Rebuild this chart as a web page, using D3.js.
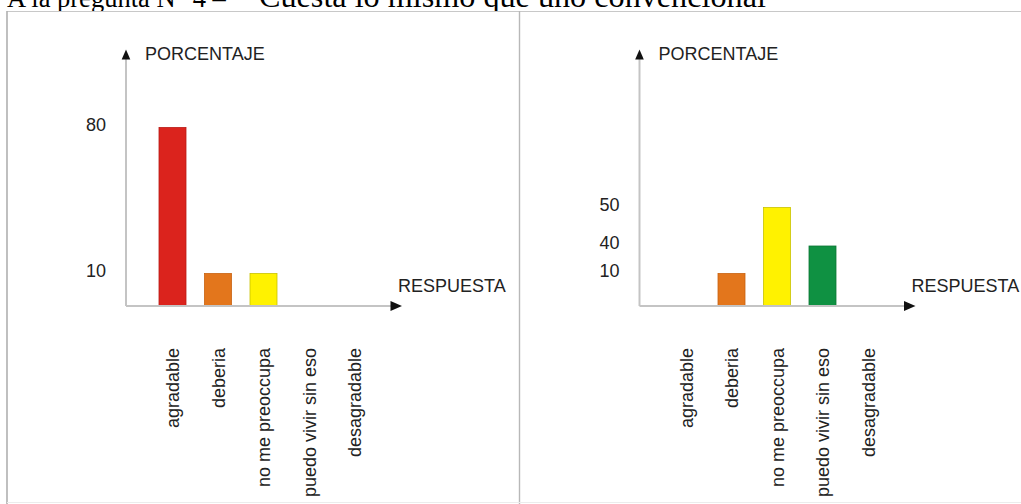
<!DOCTYPE html>
<html>
<head>
<meta charset="utf-8">
<script src="https://cdn.jsdelivr.net/npm/d3@7"></script>
<style>
  html, body { margin: 0; padding: 0; background: #fff; }
  svg { display: block; }
</style>
</head>
<body>
<svg id="chart" width="1021" height="504"></svg>
<script>
// Answers to question 4, before and after
const categories = ["agradable", "deberia", "no me preoccupa", "puedo vivir sin eso", "desagradable"];
const valuesLeft = [80, 10, 10, 0, 0];
const valuesRight = [0, 10, 50, 40, 0];
const ticksLeft = [10, 80];
const ticksRight = [10, 40, 50];
const barColors = ["#db231d", "#e3761c", "#fff200", "#0f9142", "#7a1f7a"];
const barStrokes = ["#b81a14", "#c8620f", "#c9c200", "#0a7534", "#5a155a"];
const questionText = "A la pregunta N° 4 –";
const questionBody = "Cuesta lo mismo que uno convencional";
const yTitle = "PORCENTAJE";
const xTitle = "RESPUESTA";

const svg = d3.select("#chart");
const sansFont = "'Liberation Sans', Arial, sans-serif";
const ink = "#222";
const axisGray = "#c4c4c4";

// heading line of the page, partly hidden under the figure
const heading = svg.append("text")
  .attr("y", 7)
  .attr("font-family", "'Liberation Serif', 'Times New Roman', serif")
  .attr("fill", "#000");
heading.append("tspan").attr("x", 7).attr("font-size", 26.5).text(questionText);
heading.append("tspan").attr("x", 259).attr("font-size", 32.2).text(questionBody);

// figure background sits on top of the heading's descenders
svg.append("rect").attr("x", 7).attr("y", 11).attr("width", 1014).attr("height", 493).attr("fill", "#fff");

const frame = svg.append("g").attr("fill", "none");
frame.append("line").attr("x1", 7).attr("x2", 1021).attr("y1", 11.5).attr("y2", 11.5)
  .attr("stroke", "#c8c8c8").attr("stroke-width", 1.2);
frame.append("line").attr("x1", 7).attr("x2", 7).attr("y1", 11).attr("y2", 504)
  .attr("stroke", "#b0b0b0").attr("stroke-width", 1.6);
frame.append("line").attr("x1", 519.5).attr("x2", 519.5).attr("y1", 11).attr("y2", 504)
  .attr("stroke", "#b8b8b8").attr("stroke-width", 1.4);
frame.append("line").attr("x1", 7).attr("x2", 1021).attr("y1", 502.5).attr("y2", 502.5)
  .attr("stroke", "#ececec").attr("stroke-width", 1);

// one panel: hand-spaced percentage axis, categories along the bottom
function drawPanel(originX, values, ticks) {
  const baseY = 306;
  const g = svg.append("g").attr("transform", `translate(${originX},0)`);

  // uneven tick spacing, as printed on the axis
  const tickStops = {10: 273.5, 40: 246, 50: 207.5, 80: 127.5};
  const dom = [0].concat(ticks);
  const y = d3.scaleLinear()
    .domain(dom)
    .range([baseY].concat(ticks.map(t => tickStops[t])));

  const x = d3.scalePoint()
    .domain(categories)
    .range([46.5, 46.5 + 45.5 * (categories.length - 1)]);

  const barW = 27;

  // bars
  const data = categories.map((c, i) => ({c, v: values[i], i})).filter(d => d.v > 0);
  g.selectAll("rect.bar").data(data).join("rect")
    .attr("class", "bar")
    .attr("x", d => x(d.c) - barW / 2)
    .attr("y", d => y(d.v))
    .attr("width", barW)
    .attr("height", d => baseY - y(d.v))
    .attr("fill", d => barColors[d.i])
    .attr("stroke", d => barStrokes[d.i])
    .attr("stroke-width", 0.8);

  // axes lines
  g.append("line").attr("x1", 0).attr("x2", 0).attr("y1", 58).attr("y2", baseY)
    .attr("stroke", axisGray).attr("stroke-width", 2);
  g.append("line").attr("x1", 0).attr("x2", 266).attr("y1", baseY).attr("y2", baseY)
    .attr("stroke", axisGray).attr("stroke-width", 2);

  // arrow heads
  g.append("path").attr("d", "M0,49.5 L4.3,59.5 L-4.3,59.5 Z").attr("fill", "#111");
  g.append("path").attr("d", `M276,${baseY} L264.5,${baseY - 5} L264.5,${baseY + 5} Z`).attr("fill", "#111");

  // axis titles
  g.append("text").attr("x", 19).attr("y", 60)
    .attr("font-family", sansFont).attr("font-size", 18).attr("fill", ink)
    .text(yTitle);
  g.append("text").attr("x", 272).attr("y", 292)
    .attr("font-family", sansFont).attr("font-size", 18).attr("fill", ink)
    .text(xTitle);

  // tick labels
  g.selectAll("text.tick").data(ticks).join("text")
    .attr("class", "tick")
    .attr("x", -20)
    .attr("y", d => y(d) - 3)
    .attr("dy", "0.35em")
    .attr("text-anchor", "end")
    .attr("font-family", sansFont).attr("font-size", 18).attr("fill", ink)
    .text(d => d);

  // category labels, reading upward
  g.selectAll("text.cat").data(categories).join("text")
    .attr("class", "cat")
    .attr("transform", d => `translate(${x(d) + 6.5},348) rotate(-90)`)
    .attr("text-anchor", "end")
    .attr("font-family", sansFont).attr("font-size", 18).attr("fill", ink)
    .text(d => d);
}

drawPanel(126, valuesLeft, ticksLeft);
drawPanel(639.5, valuesRight, ticksRight);
</script>
</body>
</html>
